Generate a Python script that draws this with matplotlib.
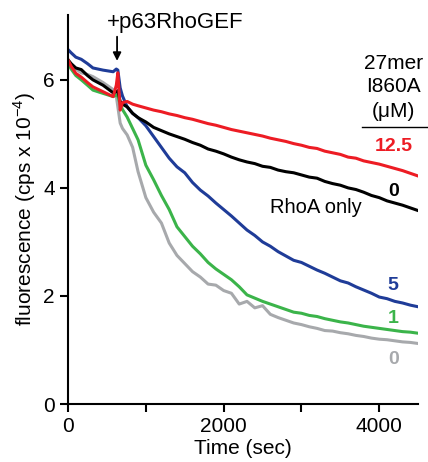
import matplotlib.pyplot as plt
from matplotlib.ticker import FixedLocator

plt.rcParams['font.family'] = ['Liberation Sans', 'DejaVu Sans']
plt.rcParams['mathtext.fontset'] = 'custom'
plt.rcParams['mathtext.rm'] = 'Liberation Sans'

# Tiempo (s)
tiempo = [0, 40, 100, 170, 250, 320, 450, 580, 620, 640, 670, 700, 760, 830,
          900, 1000, 1100, 1200, 1300, 1400, 1500, 1600, 1700, 1800, 1900,
          2000, 2100, 2200, 2300, 2400, 2500, 2600, 2700, 2800, 2900, 3000,
          3100, 3200, 3300, 3400, 3500, 3600, 3700, 3800, 3900, 4000, 4100,
          4200, 4300, 4400, 4500]

# Fluorescencia (cps x 10^-4)
rojo_12_5 = [6.37, 6.25, 6.12, 6.05, 5.95, 5.87, 5.78, 5.69, 5.90, 6.13, 5.44, 5.58, 5.60, 5.55,
             5.52, 5.48, 5.44, 5.41, 5.37, 5.34, 5.30, 5.27, 5.23, 5.19, 5.16,
             5.12, 5.08, 5.05, 5.02, 4.99, 4.96, 4.92, 4.89, 4.86, 4.82, 4.79,
             4.75, 4.73, 4.68, 4.65, 4.62, 4.57, 4.55, 4.50, 4.47, 4.44, 4.40,
             4.36, 4.32, 4.27, 4.22]
negro_rhoa = [6.37, 6.30, 6.22, 6.19, 6.08, 6.00, 5.90, 5.76, 5.78, 5.80, 5.60, 5.55, 5.50, 5.38,
              5.30, 5.22, 5.12, 5.06, 5.00, 4.95, 4.90, 4.84, 4.79, 4.72, 4.68,
              4.63, 4.57, 4.52, 4.48, 4.45, 4.40, 4.38, 4.33, 4.30, 4.28, 4.24,
              4.20, 4.18, 4.12, 4.08, 4.05, 4.00, 3.97, 3.92, 3.86, 3.82, 3.76,
              3.72, 3.68, 3.63, 3.58]
azul_5 = [6.56, 6.50, 6.42, 6.38, 6.30, 6.22, 6.18, 6.15, 6.20, 6.18, 5.85, 5.70, 5.50, 5.38,
          5.30, 5.15, 4.95, 4.75, 4.55, 4.39, 4.28, 4.10, 3.96, 3.85, 3.72,
          3.60, 3.48, 3.35, 3.22, 3.12, 3.00, 2.92, 2.82, 2.74, 2.66, 2.62,
          2.55, 2.48, 2.42, 2.35, 2.28, 2.24, 2.17, 2.11, 2.05, 1.98, 1.95,
          1.90, 1.87, 1.83, 1.80]
verde_1 = [6.31, 6.20, 6.08, 6.00, 5.90, 5.81, 5.75, 5.69, 5.72, 5.70, 5.55, 5.45, 5.31, 5.10,
           4.89, 4.42, 4.15, 3.86, 3.60, 3.28, 3.10, 2.92, 2.78, 2.62, 2.50,
           2.40, 2.30, 2.17, 2.02, 1.96, 1.90, 1.85, 1.80, 1.75, 1.70, 1.68,
           1.64, 1.62, 1.58, 1.55, 1.52, 1.50, 1.47, 1.44, 1.42, 1.40, 1.38,
           1.36, 1.34, 1.33, 1.31]
gris_0 = [6.37, 6.28, 6.20, 6.13, 6.10, 6.06, 5.95, 5.82, 5.70, 5.50, 5.20, 5.10, 4.98, 4.75,
          4.30, 3.82, 3.55, 3.35, 2.98, 2.75, 2.60, 2.45, 2.35, 2.22, 2.20,
          2.10, 2.05, 1.85, 1.90, 1.78, 1.82, 1.66, 1.60, 1.55, 1.50, 1.47,
          1.43, 1.40, 1.36, 1.35, 1.32, 1.30, 1.27, 1.25, 1.22, 1.20, 1.19,
          1.17, 1.15, 1.14, 1.12]

series = [gris_0, verde_1, azul_5, negro_rhoa, rojo_12_5]
colores = ['#a7a9ac', '#3bb44a', '#1f3c98', '#000000', '#ed1c24']

# Etiquetas de concentración (de abajo hacia arriba)
etiquetas = ['0', '1', '5', '0', '12.5']
pos_etiquetas = [0.83, 1.59, 2.2, 3.93, 4.76]


def graficar():
    fig = plt.figure(figsize=(4.28, 4.62), dpi=100)
    ax = fig.add_axes([0.159, 0.1255, 0.818, 0.842])

    for datos, color in zip(series, colores):
        ax.plot(tiempo, datos, color=color, lw=2.2)

    ax.set_xlim(0, 4500)
    ax.set_ylim(0, 7.2)
    ax.set_xticks([0, 2000, 4000])
    ax.xaxis.set_minor_locator(FixedLocator([1000, 3000]))
    ax.set_yticks([0, 2, 4, 6])
    ax.tick_params(which='both', direction='out', length=6, width=1.5, labelsize=15)
    for lado in ['top', 'right']:
        ax.spines[lado].set_visible(False)
    for lado in ['left', 'bottom']:
        ax.spines[lado].set_linewidth(1.5)

    ax.set_xlabel('Time (sec)', fontsize=15, labelpad=2)
    ax.set_ylabel('fluorescence (cps x 10$^{-4}$)', fontsize=15, labelpad=4)

    # Adición del GEF
    ax.text(1377, 7.07, '+p63RhoGEF', fontsize=16, ha='center', va='center', clip_on=False)
    ax.annotate('', xy=(630, 6.3), xytext=(630, 6.85),
                arrowprops=dict(arrowstyle='-|>', color='black', lw=1.3, mutation_scale=12))

    # Leyenda a la derecha
    ax.text(4180, 6.3, '27mer', fontsize=15, ha='center', va='center')
    ax.text(4180, 5.87, 'I860A', fontsize=15, ha='center', va='center')
    ax.text(4180, 5.41, '(\u03bcM)', fontsize=15, ha='center', va='center')
    ax.plot([3784, 4650], [5.13, 5.13], color='black', lw=1.0, clip_on=False)
    for texto, y, c in zip(etiquetas, pos_etiquetas, colores):
        ax.text(4180, y, texto, fontsize=14, fontweight='bold', color=c, ha='center', va='center')
    ax.text(3180, 3.63, 'RhoA only', fontsize=14.5, ha='center', va='center')

    fig.savefig('out.png', dpi=100)


if __name__ == '__main__':
    graficar()
